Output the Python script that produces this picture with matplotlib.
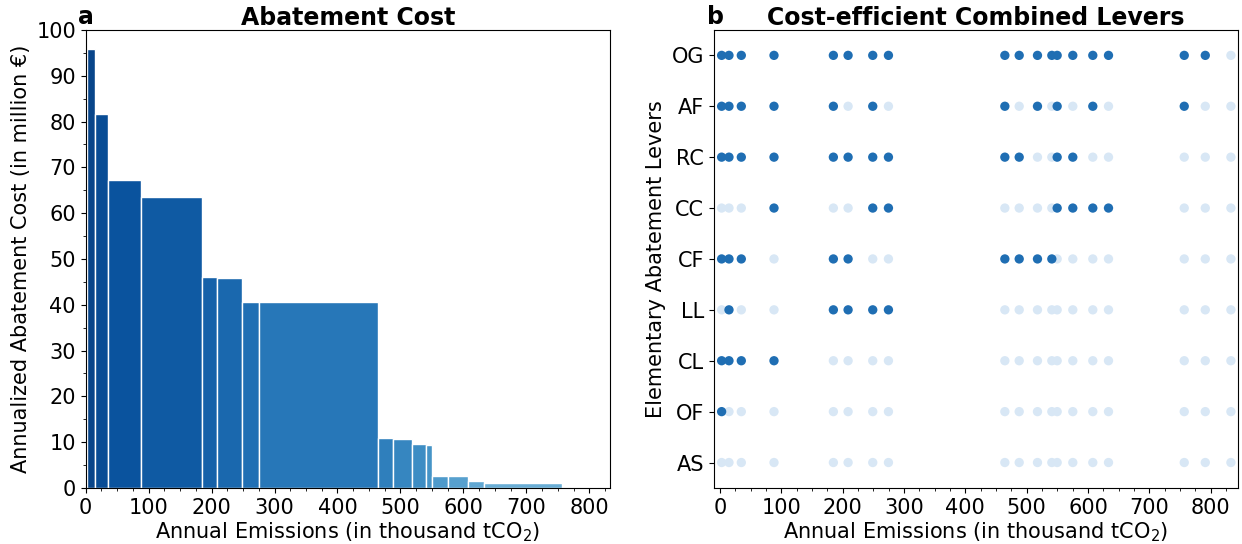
import matplotlib.pyplot as plt
import numpy as np
from matplotlib.ticker import MultipleLocator

# annual emissions of each cost-efficient combination (thousand tCO2)
emissions = [2.6, 14.6, 34.7, 88, 184.8, 208.8, 249, 274.6, 464.4, 487.8,
             517.6, 541, 549.7, 575.2, 607.8, 633.4, 756.9, 791.2, 833]
# annualized abatement cost for each step (million EUR)
costs = [95.8, 81.7, 67.2, 63.5, 46.0, 45.9, 40.6, 40.5, 10.8, 10.6,
         9.5, 9.4, 2.7, 2.6, 1.45, 1.15, 0.0, 0.0]

levers = ['AS', 'OF', 'CL', 'LL', 'CF', 'CC', 'RC', 'AF', 'OG']
# 1 = lever used in the combination at that emission level
lever_use = {
    'OG': [1, 1, 1, 1, 1, 1, 1, 1, 1, 1, 1, 1, 1, 1, 1, 1, 1, 1, 0],
    'AF': [1, 1, 1, 1, 1, 0, 1, 0, 1, 0, 1, 0, 1, 0, 1, 0, 1, 0, 0],
    'RC': [1, 1, 1, 1, 1, 1, 1, 1, 1, 1, 0, 0, 1, 1, 0, 0, 0, 0, 0],
    'CC': [0, 0, 0, 1, 0, 0, 1, 1, 0, 0, 0, 0, 1, 1, 1, 1, 0, 0, 0],
    'CF': [1, 1, 1, 0, 1, 1, 0, 0, 1, 1, 1, 1, 0, 0, 0, 0, 0, 0, 0],
    'LL': [0, 1, 0, 0, 1, 1, 1, 1, 0, 0, 0, 0, 0, 0, 0, 0, 0, 0, 0],
    'CL': [1, 1, 1, 1, 0, 0, 0, 0, 0, 0, 0, 0, 0, 0, 0, 0, 0, 0, 0],
    'OF': [1, 0, 0, 0, 0, 0, 0, 0, 0, 0, 0, 0, 0, 0, 0, 0, 0, 0, 0],
    'AS': [0] * 19,
}

plt.rcParams['font.size'] = 15

fig, (ax1, ax2) = plt.subplots(1, 2, figsize=(12.42, 5.44), dpi=100)
fig.subplots_adjust(left=0.069, right=0.997, top=0.945, bottom=0.103, wspace=0.198)

# --- a: abatement cost curve ---
x = np.array(emissions)
widths = np.diff(x)
colors = plt.cm.Blues(np.linspace(0.92, 0.45, len(costs)))
ax1.bar(x[:-1], costs, width=widths, align='edge', color=colors,
        edgecolor='white', linewidth=1)
ax1.set_xlim(0, 833)
ax1.set_ylim(0, 100)
ax1.xaxis.set_major_locator(MultipleLocator(100))
ax1.xaxis.set_minor_locator(MultipleLocator(25))
ax1.yaxis.set_major_locator(MultipleLocator(10))
ax1.yaxis.set_minor_locator(MultipleLocator(5))
ax1.set_xlabel('Annual Emissions (in thousand tCO$_2$)', labelpad=2)
ax1.set_ylabel('Annualized Abatement Cost (in million €)')
ax1.set_title('Abatement Cost', fontweight='bold', fontsize=17, pad=3)
ax1.text(-0.014, 1.012, 'a', transform=ax1.transAxes, fontweight='bold', fontsize=17)

# --- b: combined levers ---
dark = plt.cm.Blues(0.76)
light = plt.cm.Blues(0.16)
for i, name in enumerate(levers):
    used = np.array(lever_use[name])
    cols = [dark if u else light for u in used]
    order = np.argsort(used)  # draw light dots first
    ax2.scatter(x[order], np.full(len(x), i), c=[cols[k] for k in order], s=45,
                linewidths=0, zorder=3)
ax2.set_yticks(range(len(levers)))
ax2.set_yticklabels(levers)
ax2.set_ylim(-0.5, len(levers) - 0.5)
ax2.set_xlim(-10, 845)
ax2.xaxis.set_major_locator(MultipleLocator(100))
ax2.xaxis.set_minor_locator(MultipleLocator(25))
ax2.set_xlabel('Annual Emissions (in thousand tCO$_2$)', labelpad=2)
ax2.set_ylabel('Elementary Abatement Levers')
ax2.set_title('Cost-efficient Combined Levers', fontweight='bold', fontsize=17, pad=3)
ax2.text(-0.014, 1.012, 'b', transform=ax2.transAxes, fontweight='bold', fontsize=17)

plt.savefig('out.png', dpi=100)
